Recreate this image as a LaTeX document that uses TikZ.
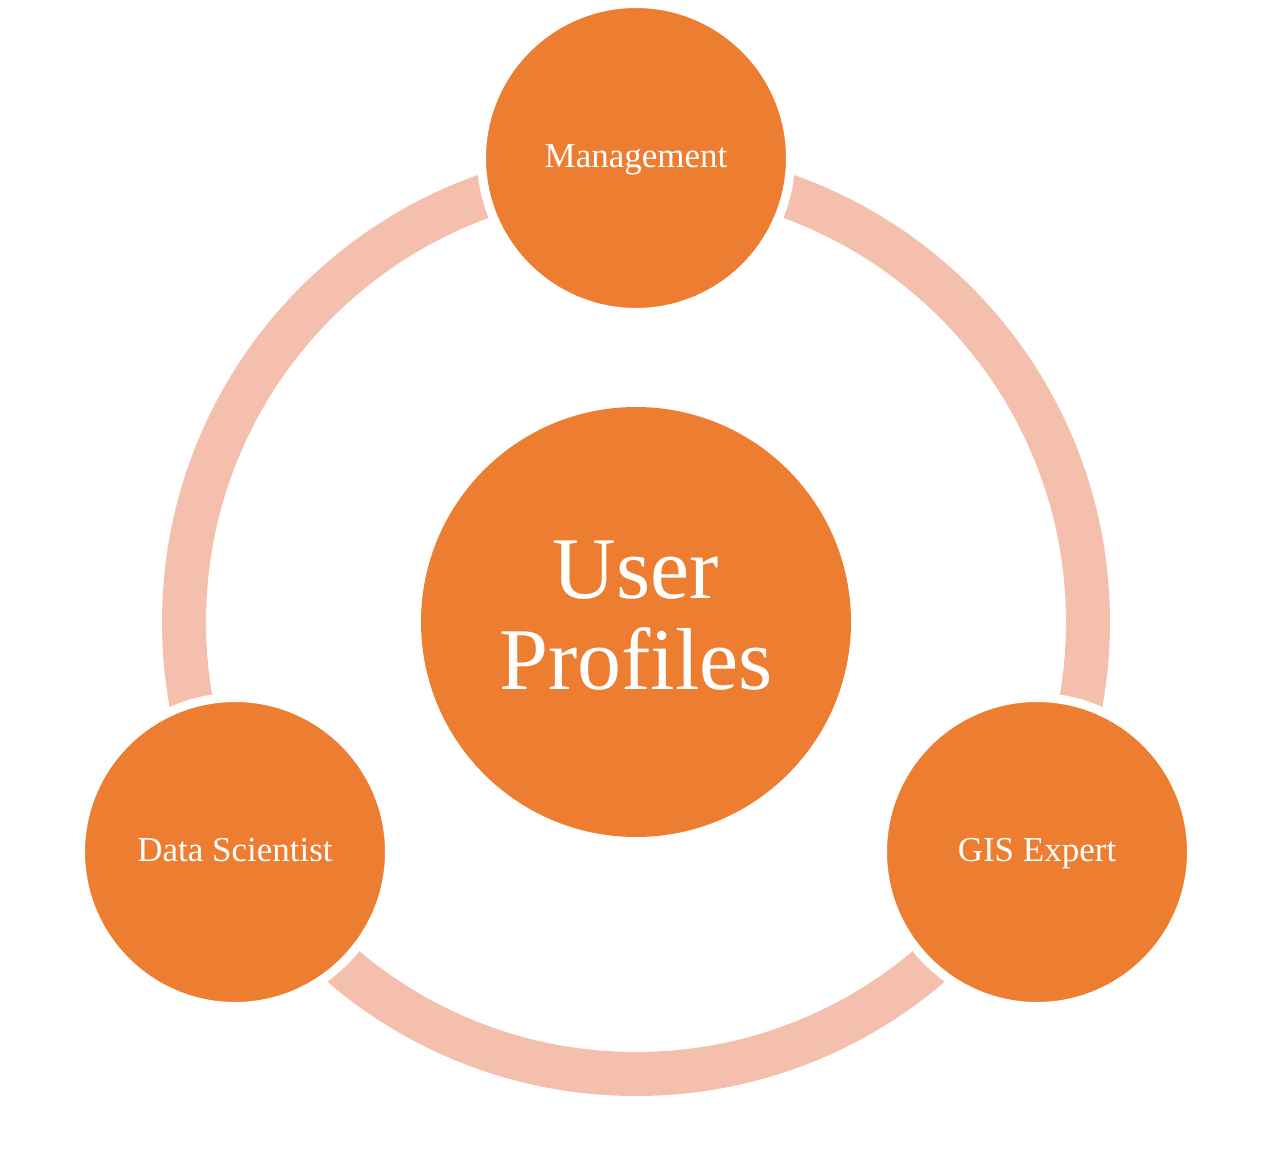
\documentclass[tikz,border=0pt]{standalone}
\usepackage{fontspec}
\setmainfont{Liberation Serif}
\definecolor{orangec}{HTML}{ED7D31}
\definecolor{ringc}{HTML}{F4BFAD}
\tikzset{
  bubble/.style={circle, fill=orangec, draw=white, line width=9pt, inner sep=0pt, text=white, align=center},
  smallbubble/.style={bubble, minimum size=309pt, font=\fontsize{35}{40}\selectfont, text height=19pt, text depth=0pt},
  bigbubble/.style={bubble, minimum size=430pt},
}
\begin{document}
\begin{tikzpicture}[x=1pt,y=-1pt]
\useasboundingbox (0,0) rectangle (1278,1164);
\coordinate (c) at (636,622);
\draw[ringc, line width=44pt] (c) circle[radius=452pt];
\node[bigbubble, draw=none] (center) at (c) {};
\node[font=\fontsize{88}{91}\selectfont, text=white, align=center, inner sep=0pt] (title) at (636,616) {User\\Profiles};
\node[smallbubble] (mgmt) at (636,158) {Management};
\node[smallbubble] (ds) at (235,852) {Data Scientist};
\node[smallbubble] (gis) at (1037,852) {GIS Expert};
\end{tikzpicture}
\end{document}
